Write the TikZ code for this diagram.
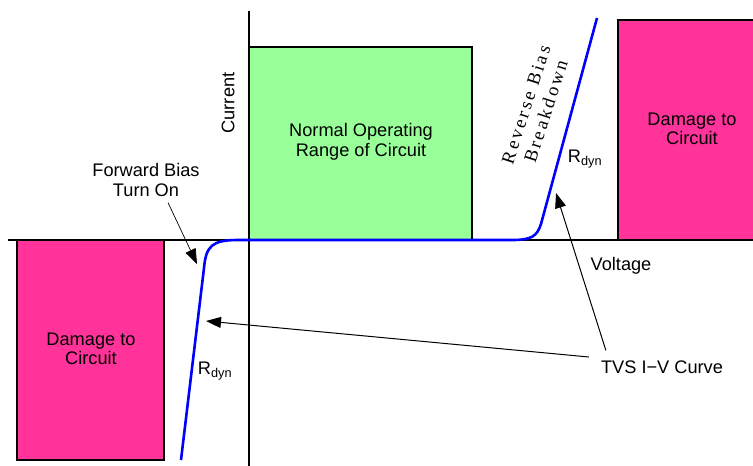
\documentclass[tikz,border=0pt]{standalone}
\usepackage{fontspec}
\setmainfont{Liberation Sans}
\newfontfamily\breakfont{Liberation Serif}[LetterSpace=14]
\usepackage{xcolor}
\usetikzlibrary{arrows.meta}

\definecolor{damagepink}{RGB}{255,51,153}
\definecolor{normalgreen}{RGB}{153,255,153}
\definecolor{curveblue}{RGB}{0,0,255}

\begin{document}
\begin{tikzpicture}[x=1pt, y=-1pt,
  lbl/.style={font=\fontsize{18.2}{19.5}\selectfont, align=center, inner sep=2pt},
  region/.style={draw=black, line width=1.4pt},
  pointer/.style={line width=1pt, -{Triangle[length=15pt,width=11pt]}}]

\useasboundingbox (0,0) rectangle (753,466);

% ==== Regions ====
\draw[region, fill=normalgreen] (249,47) rectangle (472,240);
\draw[region, fill=damagepink] (618,20) rectangle (754,240);
\draw[region, fill=damagepink] (17,240) rectangle (164,460);

\node[lbl] (normal) at (361,142) {Normal Operating\\Range of Circuit};
\node[lbl] (damageR) at (692,129) {Damage to\\Circuit};
\node[lbl] (damageL) at (91,349) {Damage to\\Circuit};

% ==== Axes ====
\draw[line width=1.4pt] (8,240) -- (753,240);
\draw[line width=1.4pt] (249,11) -- (249,466);
\node[lbl, rotate=90] (current) at (228,103) {Current};
\node[lbl] (voltage) at (621,266) {Voltage};

% ==== TVS I-V curve ====
\draw[curveblue, line width=2.6pt, line join=round]
  (181,460) -- (204,268) .. controls (206,246) and (212,240) .. (238,240)
  -- (512,240) .. controls (532,240) and (537,236) .. (541,224) -- (597,18);

\node[lbl] (rdynR) at (585,159) {R\textsubscript{dyn}};
\node[lbl] (rdynL) at (215,371) {R\textsubscript{dyn}};
\node[font=\breakfont\fontsize{18.5}{21}\selectfont, align=center, rotate=72]
  (breakdown) at (536,108) {Reverse Bias\\Breakdown};

% ==== Labels with arrows ====
\node[lbl] (fwd) at (146,180) {Forward Bias\\Turn On};
\node[lbl] (tvs) at (662,367) {TVS I−V Curve};

\coordinate (fwdtip) at (197,264);
\coordinate (lowtip) at (206,321);
\coordinate (uptip) at (556,193);

\draw[line width=0.7pt, -{Triangle[length=15pt,width=11pt]}]
  ([xshift=22pt,yshift=-4pt]fwd.south) -- (fwdtip);
\draw[pointer] ([xshift=-10pt,yshift=10pt]tvs.west) -- (lowtip);
\draw[pointer] ([xshift=7pt,yshift=8pt]tvs.north west) -- (uptip);

\end{tikzpicture}
\end{document}
